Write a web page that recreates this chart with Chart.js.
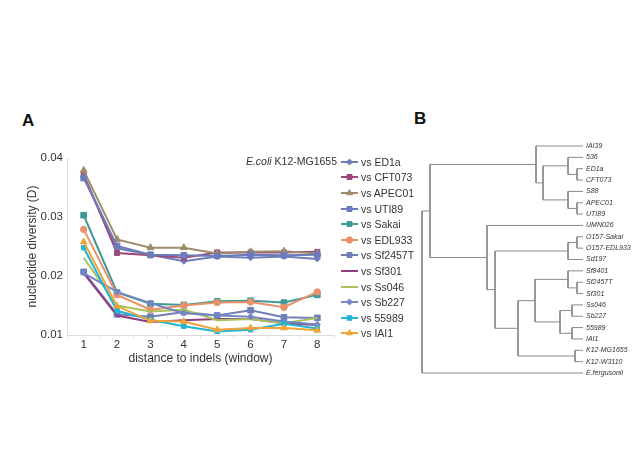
<!DOCTYPE html>
<html><head><meta charset="utf-8">
<script src="https://cdn.jsdelivr.net/npm/chart.js@4/dist/chart.umd.min.js"></script>
<style>
html,body{margin:0;padding:0;background:#fff;width:640px;height:453px;overflow:hidden;font-family:'Liberation Sans',Arial,sans-serif;}
#wrapA{position:absolute;left:0;top:0;width:345px;height:453px;}
#wrapB{position:absolute;left:412px;top:136px;width:228px;height:247px;}
.panel{position:absolute;font-weight:bold;font-size:17px;color:#111;}
#ref{position:absolute;left:200px;width:137px;text-align:right;top:155px;font-size:10.5px;color:#333;white-space:nowrap;}
#legend{position:absolute;left:341px;top:154px;}
.row{height:15.6px;display:flex;align-items:center;font-size:10.5px;color:#333;white-space:nowrap;}
.row canvas{width:17px;height:10px;margin-right:3px;}
</style></head>
<body>
<div class="panel" style="left:22px;top:111px;">A</div>
<div class="panel" style="left:414px;top:109px;">B</div>
<div id="wrapA"><canvas id="chartA" width="345" height="453"></canvas></div>
<div id="ref"><i>E.coli</i> K12-MG1655</div>
<div id="legend"></div>
<div id="wrapB"><canvas id="chartB" width="228" height="247"></canvas></div>
<script>
// ---------- Panel A data ----------
const categories = ['1','2','3','4','5','6','7','8'];
const yTicks = [0.01, 0.02, 0.03, 0.04];
const seriesLabels = ['vs ED1a','vs CFT073','vs APEC01','vs UTI89','vs Sakai','vs EDL933','vs Sf2457T','vs Sf301','vs Ss046','vs Sb227','vs 55989','vs IAI1'];
const vsED1a   = [0.0369, 0.0247, 0.0236, 0.0225, 0.0233, 0.0231, 0.0233, 0.0229];
const vsCFT073 = [0.0372, 0.0239, 0.0235, 0.0231, 0.0240, 0.0240, 0.0240, 0.0241];
const vsAPEC01 = [0.0379, 0.0262, 0.0248, 0.0248, 0.0238, 0.0241, 0.0242, 0.0238];
const vsUTI89  = [0.0366, 0.0251, 0.0236, 0.0235, 0.0234, 0.0236, 0.0235, 0.0236];
const vsSakai  = [0.0303, 0.0172, 0.0153, 0.0151, 0.0157, 0.0158, 0.0155, 0.0168];
const vsEDL933 = [0.0279, 0.0168, 0.0143, 0.0150, 0.0155, 0.0156, 0.0147, 0.0173];
const vsSf2457T= [0.0207, 0.0135, 0.0131, 0.0139, 0.0133, 0.0142, 0.0130, 0.0129];
const vsSf301  = [0.0205, 0.0133, 0.0122, 0.0125, 0.0127, 0.0127, 0.0120, 0.0117];
const vsSs046  = [0.0231, 0.0150, 0.0140, 0.0143, 0.0125, 0.0127, 0.0120, 0.0129];
const vsSb227  = [0.0205, 0.0173, 0.0154, 0.0137, 0.0133, 0.0131, 0.0123, 0.0118];
const vs55989  = [0.0248, 0.0141, 0.0126, 0.0115, 0.0106, 0.0109, 0.0119, 0.0111];
const vsIAI1   = [0.0258, 0.0149, 0.0124, 0.0123, 0.0109, 0.0112, 0.0112, 0.0108];
const seriesValues = [vsED1a, vsCFT073, vsAPEC01, vsUTI89, vsSakai, vsEDL933, vsSf2457T, vsSf301, vsSs046, vsSb227, vs55989, vsIAI1];

// ---------- Panel B data (dendrogram) ----------
const treeLeaves = ['IAI39','536','ED1a','CFT073','S88','APEC01','UTI89','UMN026','O157-Sakai','O157-EDL933','Sd197','Sf8401','Sf2457T','Sf301','Ss046','Sb227','55989','IAI1','K12-MG1655','K12-W3110','E.fergusonii'];
// merges: [childA, childB, height]; ids >= 21 refer to earlier merges
const treeMerges = [
  [2, 3, 0.006], [1, 21, 0.015], [5, 6, 0.006], [4, 23, 0.015], [22, 24, 0.040], [0, 25, 0.047],
  [8, 9, 0.006], [27, 10, 0.015], [12, 13, 0.006], [11, 29, 0.015], [14, 15, 0.011], [16, 17, 0.011],
  [31, 32, 0.023], [30, 33, 0.048], [18, 19, 0.008], [34, 35, 0.065], [28, 36, 0.088], [7, 37, 0.096],
  [26, 38, 0.153], [39, 20, 0.161]
];

// ---------- styles ----------
const seriesColors = ['#6d7db8','#9b4a7c','#a08c6c','#6a7cba','#3f9a96','#e8916a','#6f7fb8','#8e3d7e','#a9c25c','#7585c4','#22b5d6','#f0a33a'];
const seriesPoints = ['rectRot','rect','triangle','rect','rect','circle','rect',false,false,'rectRot','rect','triangle'];
const seriesRadius = [3, 3.5, 4, 4, 4, 3.2, 4, 0, 0, 3, 3.2, 3.8];
const FONT = "'Liberation Sans', Arial, sans-serif";
Chart.defaults.font.family = FONT;

const datasets = seriesValues.map((vals, i) => ({
  label: seriesLabels[i],
  data: vals,
  borderColor: seriesColors[i],
  backgroundColor: seriesColors[i],
  borderWidth: 2,
  pointStyle: seriesPoints[i] || 'circle',
  pointRadius: seriesPoints[i] ? seriesRadius[i] : 0,
  pointBorderWidth: 1,
  tension: 0
}));
datasets.forEach((d, i) => { d.order = seriesValues.length - i; });

new Chart(document.getElementById('chartA'), {
  type: 'line',
  data: { labels: categories, datasets },
  options: {
    responsive: false, animation: false,
    layout: { padding: { top: 158, right: 11, left: 0, bottom: 0 } },
    plugins: { legend: { display: false }, tooltip: { enabled: false } },
    scales: {
      x: {
        offset: true,
        grid: { display: true, drawOnChartArea: false, offset: true, tickLength: 3, color: '#e2e2e2' },
        border: { color: '#dcdcdc' },
        ticks: { font: { size: 11.5 }, color: '#333', padding: 0 },
        title: { display: true, text: 'distance to indels (window)', font: { size: 12 }, color: '#333', padding: { top: 0, bottom: 87 } },
        afterFit: s => { s.height = 118; }
      },
      y: {
        min: 0.01, max: 0.04,
        afterBuildTicks: s => { s.ticks = yTicks.map(v => ({ value: v })); },
        ticks: { font: { size: 11.5 }, color: '#333', padding: 4, callback: v => Number(v).toFixed(2) },
        grid: { drawOnChartArea: false, drawTicks: false },
        border: { color: '#dcdcdc' },
        title: { display: true, text: 'nucleotide diversity (D)', font: { size: 12 }, color: '#333', padding: { top: 25, bottom: 0 } },
        afterFit: s => { s.width = 67; }
      }
    }
  }
});

// ---------- legend (HTML) ----------
function drawMarker(ctx, style, r, x, y) {
  ctx.beginPath();
  if (style === 'circle') { ctx.arc(x, y, r, 0, Math.PI * 2); }
  else if (style === 'rect') { const s = r * Math.SQRT1_2; ctx.rect(x - s, y - s, 2 * s, 2 * s); }
  else if (style === 'rectRot') { ctx.moveTo(x, y - r); ctx.lineTo(x + r, y); ctx.lineTo(x, y + r); ctx.lineTo(x - r, y); ctx.closePath(); }
  else if (style === 'triangle') { ctx.moveTo(x, y - r); ctx.lineTo(x + r * 0.866, y + r * 0.5); ctx.lineTo(x - r * 0.866, y + r * 0.5); ctx.closePath(); }
  ctx.fill(); ctx.stroke();
}
const legend = document.getElementById('legend');
seriesLabels.forEach((lab, i) => {
  const row = document.createElement('div'); row.className = 'row';
  const c = document.createElement('canvas'); c.width = 17; c.height = 10;
  const ctx = c.getContext('2d');
  ctx.strokeStyle = seriesColors[i]; ctx.fillStyle = seriesColors[i]; ctx.lineWidth = 2;
  ctx.beginPath(); ctx.moveTo(0, 5); ctx.lineTo(17, 5); ctx.stroke();
  ctx.lineWidth = 1;
  if (seriesPoints[i]) drawMarker(ctx, seriesPoints[i], Math.min(seriesRadius[i], 3.5), 8.5, 5);
  const span = document.createElement('span'); span.textContent = lab;
  row.appendChild(c); row.appendChild(span); legend.appendChild(row);
});

// ---------- dendrogram ----------
const nodeY = treeLeaves.map((_, i) => i);
const nodeH = treeLeaves.map(() => 0);
const segPoints = [];
treeMerges.forEach(([a, b, h]) => {
  const ya = nodeY[a], yb = nodeY[b];
  segPoints.push({ x: nodeH[a], y: ya }, { x: h, y: ya }, { x: h, y: yb }, { x: nodeH[b], y: yb }, { x: NaN, y: NaN });
  nodeY.push((ya + yb) / 2); nodeH.push(h);
});

new Chart(document.getElementById('chartB'), {
  type: 'scatter',
  data: { datasets: [{ data: segPoints, showLine: true, spanGaps: false, borderColor: '#8a8a8a', borderWidth: 1, pointRadius: 0, clip: 6 }] },
  options: {
    responsive: false, animation: false,
    layout: { padding: { left: 10, top: 10, bottom: 10, right: 0 } },
    plugins: { legend: { display: false }, tooltip: { enabled: false } },
    scales: {
      x: { type: 'linear', reverse: true, min: 0, max: 0.161, display: false },
      y: {
        type: 'linear', position: 'right', reverse: true, min: 0, max: treeLeaves.length - 1,
        grid: { display: false, drawTicks: false }, border: { display: false },
        afterBuildTicks: s => { s.ticks = treeLeaves.map((_, i) => ({ value: i })); },
        ticks: { autoSkip: false, padding: 3, font: { size: 7, style: 'italic' }, color: '#333', callback: v => treeLeaves[v] },
        afterFit: s => { s.width = 57; }
      }
    }
  }
});
</script>
</body></html>
